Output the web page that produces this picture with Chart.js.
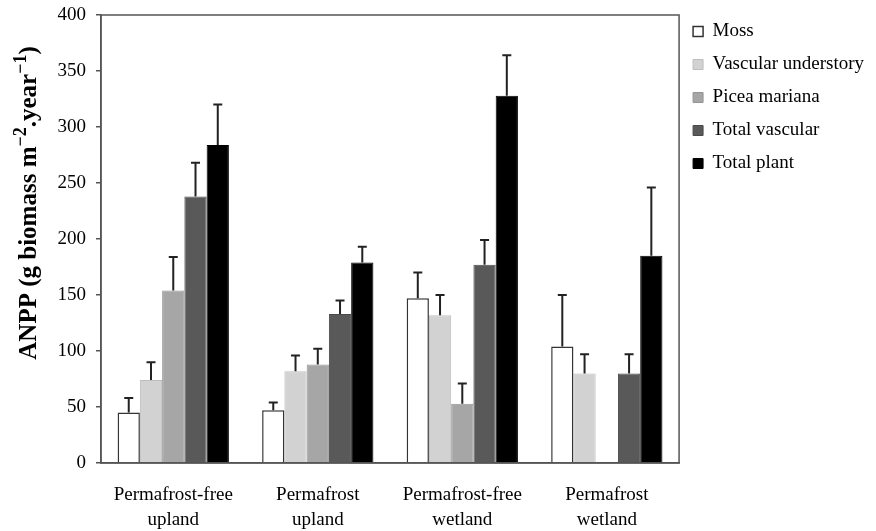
<!DOCTYPE html>
<html lang="en">
<head>
    <meta charset="UTF-8">
    <title>ANPP by site type</title>
    <script src="https://cdn.jsdelivr.net/npm/chart.js"></script>
    <style>
        html, body { margin: 0; padding: 0; background: #fff; }
        #wrap { width: 876px; height: 531px; }
    </style>
</head>
<body>
    <div id="wrap"><canvas id="anppChart" width="876" height="531"></canvas></div>

    <script>
        // site types (two-line tick labels)
        const sites = [
            ['Permafrost-free', 'upland'],
            ['Permafrost', 'upland'],
            ['Permafrost-free', 'wetland'],
            ['Permafrost', 'wetland']
        ];
        const seriesNames = ['Moss', 'Vascular understory', 'Picea mariana', 'Total vascular', 'Total plant'];

        // mean ANPP per site
        const moss = [45, 47, 147, 104];
        const vascularUnderstory = [74, 82, 132, 80];
        const piceaMariana = [154, 88, 53, null];
        const totalVascular = [238, 133, 177, 80];
        const totalPlant = [284, 179, 328, 185];

        // upper error (SE) per site
        const mossErr = [13, 7, 23, 46];
        const vascularUnderstoryErr = [16, 14, 18, 17];
        const piceaMarianaErr = [30, 14, 18, null];
        const totalVascularErr = [30, 12, 22, 17];
        const totalPlantErr = [36, 14, 36, 61];

        const yTicks = [0, 50, 100, 150, 200, 250, 300, 350, 400];

        const serif = "'Liberation Serif', 'Times New Roman', serif";
        const axisColor = '#555';

        const values = [moss, vascularUnderstory, piceaMariana, totalVascular, totalPlant];
        const errors = [mossErr, vascularUnderstoryErr, piceaMarianaErr, totalVascularErr, totalPlantErr];
        const fills = ['#ffffff', '#d2d2d2', '#a6a6a6', '#595959', '#000000'];
        const edges = ['#333333', '#bdbdbd', '#949494', '#4a4a4a', '#000000'];

        // one-sided error bars with caps
        const errorBars = {
            id: 'errorBars',
            afterDatasetsDraw(chart) {
                const ctx = chart.ctx;
                const y = chart.scales.y;
                ctx.save();
                ctx.strokeStyle = '#222';
                ctx.lineWidth = 2;
                chart.data.datasets.forEach((ds, di) => {
                    const meta = chart.getDatasetMeta(di);
                    meta.data.forEach((bar, i) => {
                        const v = ds.data[i];
                        const e = ds.errors[i];
                        if (v == null || e == null) return;
                        const top = y.getPixelForValue(v + e);
                        ctx.beginPath();
                        ctx.moveTo(bar.x, bar.y);
                        ctx.lineTo(bar.x, top);
                        ctx.moveTo(bar.x - 4.5, top);
                        ctx.lineTo(bar.x + 4.5, top);
                        ctx.stroke();
                    });
                });
                ctx.restore();
            }
        };

        // lift the legend a little towards the top edge
        const legendShift = {
            id: 'legendShift',
            afterLayout(chart) {
                chart.legend.top -= 7;
                chart.legend.bottom -= 7;
            }
        };

        // frame around the plot area plus the rotated axis title with superscripts
        const frame = {
            id: 'frame',
            afterDraw(chart) {
                const { ctx, chartArea: a } = chart;
                ctx.save();
                ctx.strokeStyle = axisColor;
                ctx.lineWidth = 1.5;
                ctx.strokeRect(a.left, a.top, a.right - a.left, a.bottom - a.top);

                const size = 25;
                const parts = [
                    ['ANPP (g biomass m', false],
                    ['\u22122', true],
                    ['.year', false],
                    ['\u22121', true],
                    [')', false]
                ];
                const fontFor = sup => 'bold ' + (sup ? Math.round(size * 0.72) : size) + 'px ' + serif;
                let total = 0;
                parts.forEach(([t, sup]) => { ctx.font = fontFor(sup); total += ctx.measureText(t).width; });
                ctx.translate(28, 203);
                ctx.rotate(-Math.PI / 2);
                ctx.fillStyle = '#000';
                ctx.textAlign = 'left';
                ctx.textBaseline = 'alphabetic';
                let x = -total / 2;
                parts.forEach(([t, sup]) => {
                    ctx.font = fontFor(sup);
                    ctx.fillText(t, x, sup ? 8 - size * 0.42 : 8);
                    x += ctx.measureText(t).width;
                });
                ctx.restore();
            }
        };

        new Chart(document.getElementById('anppChart'), {
            type: 'bar',
            data: {
                labels: sites,
                datasets: seriesNames.map((name, k) => ({
                    label: name,
                    data: values[k],
                    errors: errors[k],
                    backgroundColor: fills[k],
                    borderColor: edges[k],
                    borderWidth: k === 0 ? 1.5 : 1,
                    categoryPercentage: 0.77,
                    barPercentage: 1.0
                }))
            },
            options: {
                responsive: false,
                animation: false,
                layout: { padding: { left: 0, right: 2, top: 15, bottom: 0 } },
                plugins: {
                    tooltip: { enabled: false },
                    legend: {
                        position: 'right',
                        align: 'start',
                        labels: {
                            color: '#000',
                            font: { family: serif, size: 19 },
                            boxWidth: 10,
                            boxHeight: 10,
                            padding: 14
                        }
                    }
                },
                scales: {
                    x: {
                        afterFit(scale) { scale.height = 68; },
                        grid: { display: false, drawTicks: false },
                        border: { display: true, color: axisColor, width: 1.5 },
                        ticks: {
                            color: '#000',
                            font: { family: serif, size: 19, lineHeight: 1.32 },
                            padding: 19,
                            maxRotation: 0
                        }
                    },
                    y: {
                        min: 0,
                        max: 400,
                        afterFit(scale) {
                            scale.width = 101;
                            scale.paddingTop = 0;
                            scale.paddingBottom = 0;
                        },
                        afterBuildTicks(scale) { scale.ticks = yTicks.map(v => ({ value: v })); },
                        grid: {
                            drawOnChartArea: false,
                            drawTicks: true,
                            tickLength: 5,
                            color: axisColor,
                            lineWidth: 1.5
                        },
                        border: { display: true, color: axisColor, width: 1.5 },
                        ticks: {
                            color: '#000',
                            font: { family: serif, size: 19 },
                            padding: 10
                        }
                    }
                }
            },
            plugins: [errorBars, legendShift, frame]
        });
    </script>
</body>
</html>
